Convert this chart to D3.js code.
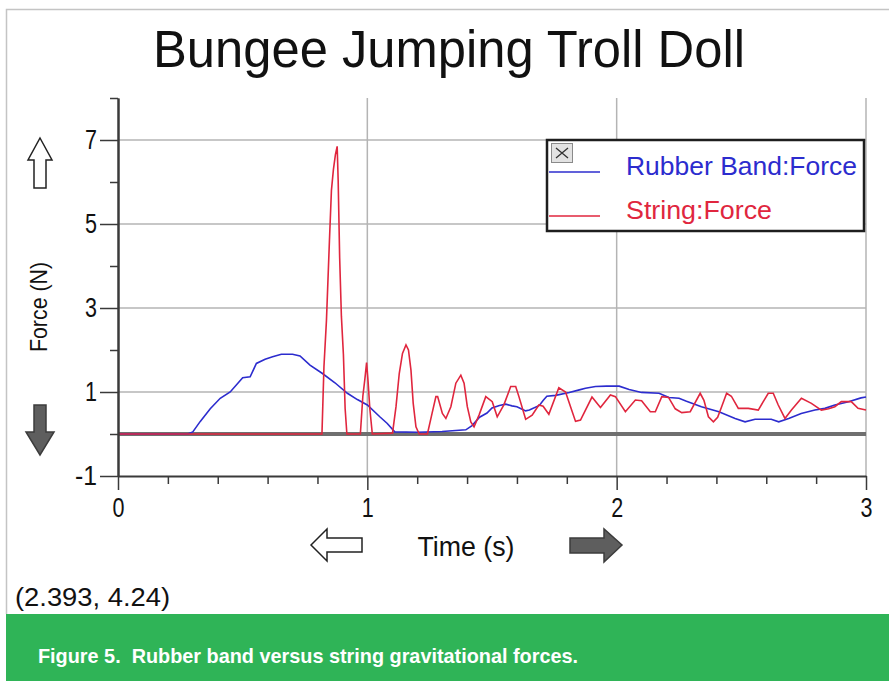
<!DOCTYPE html>
<html>
<head>
<meta charset="utf-8">
<script src="https://cdn.jsdelivr.net/npm/d3@7"></script>
<style>
  html, body { margin: 0; padding: 0; background: #fff; }
  svg { display: block; }
  text { font-family: "Liberation Sans", Arial, sans-serif; }
</style>
</head>
<body>
<svg id="chart" width="889" height="681"></svg>
<script>
// Rubber band force (N) against time (s)
const rubberTime = [0, 0.28, 0.30, 0.33, 0.37, 0.41, 0.45, 0.50, 0.53, 0.555, 0.59, 0.62, 0.655, 0.70, 0.73, 0.77, 0.82, 0.87, 0.92, 0.96, 1.0, 1.05, 1.08, 1.11, 1.20, 1.30, 1.395, 1.42, 1.45, 1.48, 1.50, 1.53, 1.555, 1.58, 1.60, 1.635, 1.65, 1.69, 1.705, 1.72, 1.755, 1.81, 1.85, 1.875, 1.915, 1.96, 2.01, 2.05, 2.10, 2.17, 2.21, 2.25, 2.28, 2.34, 2.41, 2.475, 2.515, 2.555, 2.62, 2.65, 2.69, 2.74, 2.795, 2.835, 2.875, 2.93, 2.98, 3.0];
const rubberForce = [0, 0, 0.05, 0.3, 0.6, 0.85, 1.0, 1.34, 1.36, 1.68, 1.78, 1.84, 1.9, 1.9, 1.86, 1.64, 1.44, 1.22, 0.97, 0.82, 0.69, 0.41, 0.25, 0.05, 0.04, 0.06, 0.1, 0.2, 0.4, 0.5, 0.62, 0.68, 0.71, 0.67, 0.65, 0.55, 0.57, 0.68, 0.8, 0.9, 0.92, 0.99, 1.05, 1.09, 1.13, 1.14, 1.14, 1.06, 0.99, 0.97, 0.87, 0.85, 0.78, 0.65, 0.53, 0.37, 0.29, 0.35, 0.35, 0.29, 0.37, 0.49, 0.57, 0.61, 0.69, 0.77, 0.86, 0.88];

// String force (N) against time (s)
const stringTime = [0, 0.818, 0.826, 0.836, 0.848, 0.856, 0.864, 0.872, 0.879, 0.883, 0.889, 0.896, 0.904, 0.911, 0.918, 0.972, 0.982, 0.99, 0.997, 1.003, 1.01, 1.02, 1.101, 1.115, 1.128, 1.141, 1.155, 1.165, 1.175, 1.184, 1.195, 1.208, 1.241, 1.258, 1.275, 1.282, 1.301, 1.315, 1.335, 1.355, 1.375, 1.388, 1.401, 1.415, 1.428, 1.448, 1.475, 1.501, 1.521, 1.548, 1.575, 1.595, 1.608, 1.635, 1.661, 1.688, 1.705, 1.728, 1.768, 1.795, 1.815, 1.835, 1.855, 1.901, 1.935, 1.975, 1.995, 2.035, 2.075, 2.1, 2.135, 2.155, 2.181, 2.208, 2.235, 2.261, 2.295, 2.335, 2.35, 2.368, 2.388, 2.405, 2.421, 2.441, 2.46, 2.488, 2.528, 2.568, 2.608, 2.628, 2.648, 2.675, 2.701, 2.741, 2.781, 2.821, 2.85, 2.875, 2.901, 2.941, 2.968, 3.0];
const stringForce = [0, 0, 1.6, 2.7, 4.6, 5.8, 6.3, 6.65, 6.85, 6.05, 4.2, 2.8, 1.9, 0.6, 0, 0, 0.9, 1.3, 1.7, 1.25, 0.6, 0, 0.02, 0.65, 1.44, 1.92, 2.12, 2.0, 1.52, 0.73, 0.17, 0, 0, 0.45, 0.89, 0.89, 0.49, 0.37, 0.65, 1.21, 1.4, 1.21, 0.65, 0.29, 0.17, 0.45, 0.89, 0.77, 0.41, 0.7, 1.13, 1.13, 0.89, 0.35, 0.45, 0.69, 0.66, 0.47, 1.1, 1.0, 0.65, 0.3, 0.33, 0.88, 0.63, 0.93, 0.89, 0.53, 0.81, 0.79, 0.53, 0.53, 0.89, 0.87, 0.6, 0.51, 0.53, 0.97, 0.8, 0.41, 0.29, 0.4, 0.65, 0.97, 0.9, 0.61, 0.61, 0.57, 0.97, 0.97, 0.69, 0.37, 0.57, 0.85, 0.73, 0.57, 0.6, 0.65, 0.77, 0.77, 0.61, 0.57];

const seriesNames = ["Rubber Band:Force", "String:Force"];
const seriesColors = ["#2c2cce", "#e0263e"];

const xMajorTicks = [0, 1, 2, 3];
const xMinorTicks = [0.2, 0.4, 0.6, 0.8, 1.2, 1.4, 1.6, 1.8, 2.2, 2.4, 2.6, 2.8];
const yMajorTicks = [-1, 1, 3, 5, 7];
const yMinorTicks = [0, 2, 4, 6, 8];

const chartTitle = "Bungee Jumping Troll Doll";
const xTitle = "Time (s)";
const yTitle = "Force (N)";
const cursorReadout = "(2.393, 4.24)";
const caption = "Figure 5.  Rubber band versus string gravitational forces.";

const svg = d3.select("#chart");

const x = d3.scaleLinear().domain([0, 3]).range([118, 866]);
const y = d3.scaleLinear().domain([-1, 8]).range([476, 98]);

// Squeeze a text element to a given width
function fit(sel, w) {
  sel.attr("textLength", w).attr("lengthAdjust", "spacingAndGlyphs");
}
const plain = d => String(d);

// outer frame (left and top edges)
svg.append("path")
  .attr("d", "M6.5,614 V9.5 H889")
  .attr("fill", "none").attr("stroke", "#c4c4c4").attr("stroke-width", 1.5);

// title
svg.append("text").attr("x", 449).attr("y", 67)
  .attr("text-anchor", "middle").attr("font-size", 51).attr("fill", "#111")
  .text(chartTitle).call(fit, 592);

// grid
const grid = svg.append("g").attr("stroke", "#b4b4b4").attr("stroke-width", 1.5);
grid.selectAll("line.h").data(yMajorTicks.filter(d => d > -1)).join("line")
  .attr("x1", x(0)).attr("x2", x(3)).attr("y1", d => y(d)).attr("y2", d => y(d));
grid.selectAll("line.v").data(xMajorTicks.filter(d => d > 0)).join("line")
  .attr("y1", y(8)).attr("y2", y(-1)).attr("x1", d => x(d)).attr("x2", d => x(d));

// zero line
svg.append("line").attr("x1", x(0)).attr("x2", x(3)).attr("y1", y(0)).attr("y2", y(0))
  .attr("stroke", "#6f6f6f").attr("stroke-width", 4);

// data lines
const line = d3.line().x(d => x(d[0])).y(d => y(d[1]));
const rubber = rubberTime.map((t, i) => [t, rubberForce[i]]);
const string = stringTime.map((t, i) => [t, stringForce[i]]);
svg.append("path").datum(rubber).attr("d", line)
  .attr("fill", "none").attr("stroke", seriesColors[0]).attr("stroke-width", 1.6);
svg.append("path").datum(string).attr("d", line)
  .attr("fill", "none").attr("stroke", seriesColors[1]).attr("stroke-width", 1.6);

// axes
const axisColor = "#3a3a3a";
function styleAxis(g) {
  g.select(".domain").attr("stroke", axisColor).attr("stroke-width", 2);
  g.selectAll(".tick line").attr("stroke", axisColor).attr("stroke-width", 1.5);
  g.selectAll(".tick text").attr("font-family", "Liberation Sans, Arial, sans-serif")
    .attr("font-size", 27).attr("fill", "#111");
}
const yAxis = svg.append("g").attr("transform", `translate(${x(0)},0)`)
  .call(d3.axisLeft(y).tickValues(yMajorTicks).tickSize(18).tickPadding(3).tickSizeOuter(0).tickFormat(plain))
  .call(styleAxis);
yAxis.selectAll(".tick text").each(function(d) { fit(d3.select(this), d < 0 ? 22 : 12); });
svg.append("g").attr("transform", `translate(${x(0)},0)`)
  .call(d3.axisLeft(y).tickValues(yMinorTicks).tickSize(8).tickFormat("").tickSizeOuter(0))
  .call(styleAxis);

const xAxis = svg.append("g").attr("transform", `translate(0,${y(-1)})`)
  .call(d3.axisBottom(x).tickValues(xMajorTicks).tickSize(14).tickPadding(8).tickSizeOuter(0).tickFormat(plain))
  .call(styleAxis);
xAxis.selectAll(".tick text").each(function() { fit(d3.select(this), 12); });
svg.append("g").attr("transform", `translate(0,${y(-1)})`)
  .call(d3.axisBottom(x).tickValues(xMinorTicks).tickSize(8).tickFormat("").tickSizeOuter(0))
  .call(g => g.select(".domain").remove())
  .call(styleAxis);

// axis titles
svg.append("text").attr("transform", "translate(47,307) rotate(-90)")
  .attr("text-anchor", "middle").attr("font-size", 24).attr("fill", "#111")
  .text(yTitle).call(fit, 90);
svg.append("text").attr("x", 466).attr("y", 556)
  .attr("text-anchor", "middle").attr("font-size", 27).attr("fill", "#111")
  .text(xTitle).call(fit, 97);

// navigation arrows
const hollow = { fill: "#fff", stroke: "#222" };
const solid = { fill: "#5e5e5e", stroke: "#3c3c3c" };
function arrow(points, style) {
  svg.append("polygon").attr("points", points.map(p => p.join(",")).join(" "))
    .attr("fill", style.fill).attr("stroke", style.stroke).attr("stroke-width", 1.5)
    .attr("stroke-linejoin", "miter");
}
// up (hollow)
arrow([[40, 138], [52, 160], [46, 160], [46, 188], [34, 188], [34, 160], [28, 160]], hollow);
// down (solid)
arrow([[34, 405], [46, 405], [46, 432], [54, 432], [40, 455], [26, 432], [34, 432]], solid);
// left (hollow)
arrow([[311, 545], [327, 529], [327, 538], [362, 538], [362, 552], [327, 552], [327, 561]], hollow);
// right (solid)
arrow([[570, 538], [604, 538], [604, 529], [622, 545], [604, 562], [604, 553], [570, 553]], solid);

// cursor readout
svg.append("text").attr("x", 15).attr("y", 606).attr("font-size", 25).attr("fill", "#111")
  .text(cursorReadout).call(fit, 155);

// legend
const lg = svg.append("g");
lg.append("rect").attr("x", 547).attr("y", 140).attr("width", 317).attr("height", 91)
  .attr("fill", "#fff").attr("stroke", "#1e1e1e").attr("stroke-width", 2.5);
lg.append("rect").attr("x", 551.5).attr("y", 143.5).attr("width", 21).attr("height", 19)
  .attr("fill", "#e2e2e2").attr("stroke", "#8a8a8a").attr("stroke-width", 1);
lg.append("path").attr("d", "M556,148 L568,158 M568,148 L556,158")
  .attr("stroke", "#333").attr("stroke-width", 1.3);
const legendY = [172, 216];
const legendTextY = [175, 219];
seriesNames.forEach((name, i) => {
  lg.append("line").attr("x1", 549).attr("x2", 600).attr("y1", legendY[i]).attr("y2", legendY[i])
    .attr("stroke", seriesColors[i]).attr("stroke-width", 1.6);
  lg.append("text").attr("x", 626).attr("y", legendTextY[i]).attr("font-size", 26)
    .attr("fill", seriesColors[i]).text(name).call(fit, i === 0 ? 231 : 146);
});

// caption band
svg.append("rect").attr("x", 6).attr("y", 614).attr("width", 883).attr("height", 67).attr("fill", "#2fb457");
svg.append("text").attr("x", 38).attr("y", 663).attr("font-size", 21).attr("font-weight", "bold")
  .attr("fill", "#fff").style("white-space", "pre").text(caption).call(fit, 540);
</script>
</body>
</html>
